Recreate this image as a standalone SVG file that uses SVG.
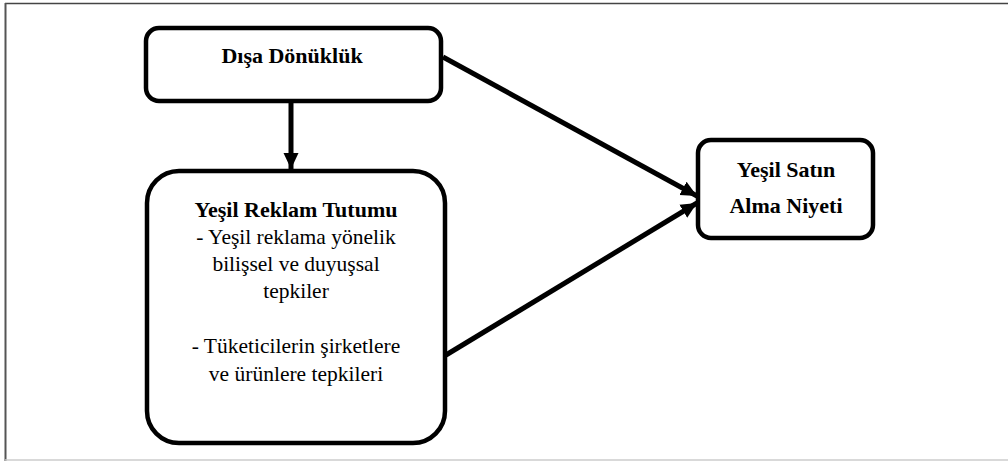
<svg xmlns="http://www.w3.org/2000/svg" width="1008" height="461" viewBox="0 0 1008 461">
<style>
.box{fill:#fff;stroke:#000;stroke-width:4.5}
.conn{stroke:#000;stroke-width:5;fill:none}
text{font-family:"Liberation Serif","Times New Roman",serif;font-size:21.5px;fill:#000;text-anchor:middle}
.b{font-weight:bold;font-size:22px}
</style>
<defs>
<marker id="ah" markerUnits="userSpaceOnUse" markerWidth="18" markerHeight="18" viewBox="0 0 18 18" refX="16" refY="9" orient="auto">
<path d="M0,1.5 L16,9 L0,16.5 Z" fill="#000"/>
</marker>
</defs>
<rect x="0" y="0" width="1008" height="461" fill="#fff"/>
<g id="frame">
<line x1="5" y1="3.5" x2="1008" y2="3.5" stroke="#444" stroke-width="1.5"/>
<line x1="5.5" y1="3" x2="5.5" y2="461" stroke="#555" stroke-width="2"/>
<line x1="5" y1="460" x2="1008" y2="460" stroke="#ccc" stroke-width="1.5"/>
</g>
<g id="connectors">
<line class="conn" x1="291" y1="96" x2="291" y2="169" marker-end="url(#ah)"/>
<line class="conn" x1="443" y1="57" x2="697" y2="196" marker-end="url(#ah)"/>
<line class="conn" x1="446" y1="355" x2="697" y2="203" marker-end="url(#ah)"/>
</g>
<g id="node-disa">
<rect class="box" x="146" y="28" width="295" height="73" rx="13"/>
<text class="b" x="292" y="63">Dışa Dönüklük</text>
</g>
<g id="node-reklam">
<rect class="box" x="147" y="171" width="298" height="272" rx="32"/>
<text class="b" x="296" y="217">Yeşil Reklam Tutumu</text>
<text x="296" y="244">- Yeşil reklama yönelik</text>
<text x="296" y="271">bilişsel ve duyuşsal</text>
<text x="296" y="298">tepkiler</text>
<text x="296" y="353">- Tüketicilerin şirketlere</text>
<text x="296" y="381">ve ürünlere tepkileri</text>
</g>
<g id="node-niyet">
<rect class="box" x="698" y="140" width="175" height="98" rx="13"/>
<text class="b" x="786" y="177">Yeşil Satın</text>
<text class="b" x="786" y="213">Alma Niyeti</text>
</g>
</svg>
